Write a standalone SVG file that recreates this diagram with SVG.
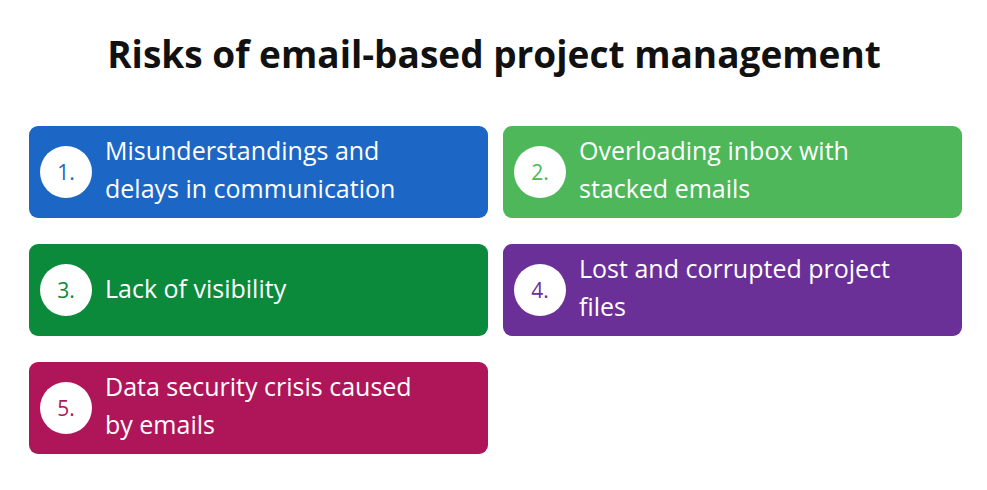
<svg xmlns="http://www.w3.org/2000/svg" width="987" height="490" viewBox="0 0 987 490">
<style>
.t{font-family:"Open Sans","Liberation Sans",sans-serif;font-size:25px;fill:#fff}
.n{font-family:"Open Sans","Liberation Sans",sans-serif;font-size:21px;text-anchor:middle}
.h{font-family:"Open Sans","Liberation Sans",sans-serif;font-size:37px;font-weight:bold;fill:#111;text-anchor:middle}
</style>
<rect width="987" height="490" fill="#fff"/>
<text class="h" x="494" y="68">Risks of email-based project management</text>
<g id="n1"><rect x="29" y="126" width="459" height="92" rx="9" fill="#1c66c6"/><circle cx="66" cy="172" r="26" fill="#fff"/><text class="n" x="66" y="180" fill="#1c66c6">1.</text><text class="t" x="105" y="160">Misunderstandings and</text><text class="t" x="105" y="198">delays in communication</text></g>
<g id="n2"><rect x="503" y="126" width="459" height="92" rx="9" fill="#4db75a"/><circle cx="540" cy="172" r="26" fill="#fff"/><text class="n" x="540" y="180" fill="#4db75a">2.</text><text class="t" x="579" y="160">Overloading inbox with</text><text class="t" x="579" y="198">stacked emails</text></g>
<g id="n3"><rect x="29" y="244" width="459" height="92" rx="9" fill="#0b8a3c"/><circle cx="66" cy="290" r="26" fill="#fff"/><text class="n" x="66" y="298" fill="#0b8a3c">3.</text><text class="t" x="105" y="298">Lack of visibility</text></g>
<g id="n4"><rect x="503" y="244" width="459" height="92" rx="9" fill="#6b2f98"/><circle cx="540" cy="290" r="26" fill="#fff"/><text class="n" x="540" y="298" fill="#6b2f98">4.</text><text class="t" x="579" y="278">Lost and corrupted project</text><text class="t" x="579" y="316">files</text></g>
<g id="n5"><rect x="29" y="362" width="459" height="92" rx="9" fill="#ae1659"/><circle cx="66" cy="408" r="26" fill="#fff"/><text class="n" x="66" y="416" fill="#ae1659">5.</text><text class="t" x="105" y="396">Data security crisis caused</text><text class="t" x="105" y="434">by emails</text></g>
<g id="connectors"/>
</svg>
